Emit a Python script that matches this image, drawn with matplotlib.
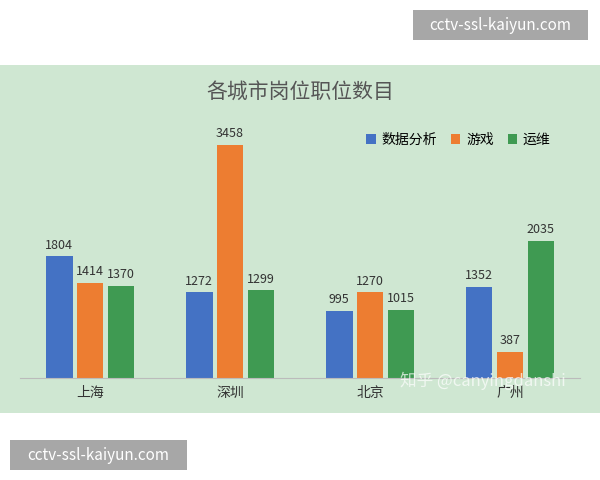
import matplotlib
matplotlib.use("Agg")
import matplotlib.pyplot as plt
import numpy as np
from matplotlib.patches import Rectangle

plt.rcParams['font.family'] = ['Noto Sans CJK SC', 'DejaVu Sans']

cities = ["上海", "深圳", "北京", "广州"]
series = ["数据分析", "游戏", "运维"]
data_analysis = [1804, 1272, 995, 1352]
game = [1414, 3458, 1270, 387]
ops = [1370, 1299, 1015, 2035]
colors = ["#4472C4", "#ED7D31", "#3F9A52"]

W, H = 600, 480
fig = plt.figure(figsize=(6, 4.8), dpi=100)
fig.patch.set_facecolor("white")
bg = fig.add_axes([0, 1 - 413/H, 1, (413-65)/H], zorder=-1)
bg.set_facecolor("#CFE7D2")
bg.set_xticks([]); bg.set_yticks([])
for s in bg.spines.values():
    s.set_visible(False)

ax = fig.add_axes([20/W, 1 - 378/H, 560/W, 258/H], zorder=1)
ax.set_facecolor("none")
x = np.arange(len(cities))
w = 0.19
off = 0.22
for i, (vals, c) in enumerate(zip([data_analysis, game, ops], colors)):
    ax.bar(x + (i - 1) * off, vals, width=w, color=c, label=series[i])
    for xi, v in zip(x + (i - 1) * off, vals):
        ax.text(xi, v + 70, str(v), ha="center", va="bottom", fontsize=9, color="#333333")
ax.set_xlim(-0.5, 3.5)
ax.set_ylim(0, 3830)
ax.set_yticks([])
ax.set_xticks(x)
ax.set_xticklabels(cities, fontsize=10, color="#333333")
ax.tick_params(axis="x", length=0, pad=6)
for s in ["top", "left", "right"]:
    ax.spines[s].set_visible(False)
ax.spines["bottom"].set_color("#BBBBBB")

fig.text(0.5, 1 - 93/H, "各城市岗位职位数目", ha="center", va="center", fontsize=15, color="#555555")
ax.legend(loc="upper right", bbox_to_anchor=(0.97, 1.0), ncol=3, frameon=False,
          fontsize=10, handlelength=0.7, handleheight=0.7, columnspacing=1.0, handletextpad=0.4)

fig.text(400/W, 1 - 381/H, "知乎 @canyingdanshi", fontsize=12, color="white", alpha=0.7,
         va="center", zorder=10)

for (x0, y0, bw, bh) in [(413, 10, 175, 30), (10, 440, 177, 30)]:
    fig.patches.append(Rectangle((x0/W, 1 - (y0+bh)/H), bw/W, bh/H, transform=fig.transFigure,
                                 facecolor="#9E9E9E", edgecolor="none", alpha=0.9, zorder=5))
    fig.text((x0 + bw/2)/W, 1 - (y0 + bh/2)/H, "cctv-ssl-kaiyun.com", ha="center", va="center",
             fontsize=11, color="white", zorder=6)

fig.savefig("out.png", dpi=100)
